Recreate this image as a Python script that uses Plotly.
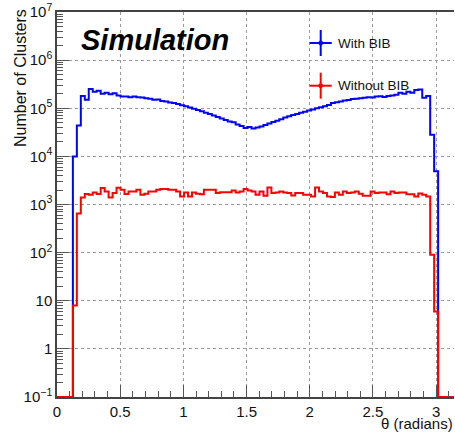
import numpy as np
import plotly.graph_objects as go

# ---------------- data ----------------
n_bins = 100
theta_min, theta_max = 0.0, np.pi

with_bib = [
    0, 0, 0, 0, 1.0e4, 4.4e4, 1.8e5, 1.5e5, 2.5e5, 2.2e5,
    2.3e5, 2.0e5, 2.1e5, 1.95e5, 2.05e5, 1.85e5, 1.75e5, 1.75e5, 1.7e5, 1.75e5,
    1.7e5, 1.68e5, 1.62e5, 1.58e5, 1.5e5, 1.52e5, 1.42e5, 1.38e5, 1.32e5, 1.28e5,
    1.22e5, 1.15e5, 1.1e5, 1.04e5, 9.8e4, 9.2e4, 8.7e4, 8.1e4, 7.6e4, 7.1e4,
    6.6e4, 6.1e4, 5.7e4, 5.3e4, 5.1e4, 4.6e4, 4.3e4, 3.9e4, 4.1e4, 3.8e4,
    4.0e4, 4.2e4, 4.5e4, 4.8e4, 5.2e4, 5.5e4, 5.9e4, 6.4e4, 6.8e4, 7.2e4,
    7.6e4, 8.1e4, 8.5e4, 9.0e4, 9.4e4, 1.0e5, 1.05e5, 1.1e5, 1.17e5, 1.28e5,
    1.33e5, 1.38e5, 1.45e5, 1.48e5, 1.55e5, 1.57e5, 1.62e5, 1.65e5, 1.7e5, 1.68e5,
    1.75e5, 1.78e5, 1.72e5, 1.8e5, 1.85e5, 1.9e5, 2.1e5, 2.0e5, 2.2e5, 2.1e5,
    2.4e5, 2.45e5, 1.65e5, 1.8e5, 2.8e4, 4.9e3, 0, 0, 0, 0,
]

without_bib = [
    0, 0, 0, 0, 8, 650, 1400, 1660, 1590, 1780,
    1660, 2190, 1860, 1400, 1730, 2240, 2020, 1660, 1860, 1860,
    2020, 1590, 1670, 1860, 1860, 2020, 2090, 2090, 2020, 2020,
    1860, 1470, 1780, 1470, 1780, 1670, 1640, 2020, 2020, 2020,
    1730, 1800, 1800, 1800, 1955, 1780, 1860, 2090, 1955, 1860,
    1590, 1860, 1520, 2260, 1730, 1780, 1860, 1780, 1730, 1540,
    1730, 1730, 1590, 1590, 1470, 2260, 1860, 1730, 1470, 1430,
    1780, 1590, 1860, 1730, 1780, 1860, 1670, 1520, 1520, 1860,
    1730, 1780, 1780, 1640, 1860, 1730, 1780, 1780, 1640, 1640,
    1470, 1700, 1600, 1470, 90, 6, 0, 0, 0, 0,
]

series_names = ["With BIB", "Without BIB"]
series_colors = ["#0000ff", "#ff0000"]

x_tick_vals = [0, 0.5, 1, 1.5, 2, 2.5, 3]
x_tick_text = ["0", "0.5", "1", "1.5", "2", "2.5", "3"]
y_tick_vals = [1e-1, 1, 10, 1e2, 1e3, 1e4, 1e5, 1e6, 1e7]
y_tick_text = ["10<sup>\u22121</sup>", "1", "10", "10<sup>2</sup>", "10<sup>3</sup>",
               "10<sup>4</sup>", "10<sup>5</sup>", "10<sup>6</sup>", "10<sup>7</sup>"]

x_title = "\u03b8 (radians)"
y_title = "Number of Clusters"
label_text = "Simulation"

# ---------------- layout constants ----------------
W, H = 455, 432
ML, MR, MT, MB = 57, 1, 12, 35
y_floor = 1e-1
FONT = "Liberation Sans, Arial, Helvetica, sans-serif"

edges = np.linspace(theta_min, theta_max, n_bins + 1)


def step_xy(vals):
    v = np.maximum(np.asarray(vals, dtype=float), y_floor)
    xs = np.concatenate([edges[:-1], [edges[-1]]])
    ys = np.concatenate([v, [v[-1]]])
    return xs, ys


fig = go.Figure()
for name, vals, col in zip(series_names, [with_bib, without_bib], series_colors):
    xs, ys = step_xy(vals)
    fig.add_trace(go.Scatter(x=xs, y=ys, mode="lines", line=dict(color=col, width=2, shape="hv"),
                             name=name, showlegend=False, hoverinfo="skip"))

pw, ph = W - ML - MR, H - MT - MB


def px_x(p):
    return (p - ML) / pw


def px_y(p):
    return (H - MB - p) / ph


shapes = []
annotations = []
# legend glyphs (ROOT-style error-bar crosses)
legend_pos = [(320.7, 43.0), (320.7, 85.7)]
for (cx, cy), col, name in zip(legend_pos, series_colors, series_names):
    shapes.append(dict(type="line", xref="paper", yref="paper",
                       x0=px_x(cx - 11), x1=px_x(cx + 11), y0=px_y(cy), y1=px_y(cy),
                       line=dict(color=col, width=2)))
    shapes.append(dict(type="line", xref="paper", yref="paper",
                       x0=px_x(cx), x1=px_x(cx), y0=px_y(cy - 13), y1=px_y(cy + 13),
                       line=dict(color=col, width=2)))
    shapes.append(dict(type="circle", xref="paper", yref="paper",
                       x0=px_x(cx - 2), x1=px_x(cx + 2), y0=px_y(cy - 2), y1=px_y(cy + 2),
                       line=dict(color=col, width=1), fillcolor=col))
    annotations.append(dict(text=name, xref="paper", yref="paper", x=px_x(336), y=px_y(cy),
                            xanchor="left", yanchor="middle", showarrow=False,
                            font=dict(family=FONT, size=13.5, color="#111")))

annotations.append(dict(text=label_text, xref="paper", yref="paper", x=px_x(79), y=px_y(40),
                        xanchor="left", yanchor="middle", showarrow=False,
                        font=dict(family=FONT, size=29, color="black", weight="bold", style="italic")))
annotations.append(dict(text=y_title, xref="paper", yref="paper", x=px_x(20), y=px_y(7),
                        xanchor="center", yanchor="top", textangle=-90, showarrow=False,
                        font=dict(family=FONT, size=16, color="#111")))
annotations.append(dict(text=x_title, xref="paper", yref="paper", x=px_x(455), y=px_y(424),
                        xanchor="right", yanchor="middle", showarrow=False,
                        font=dict(family=FONT, size=15, color="#111")))

fig.update_layout(
    width=W, height=H,
    margin=dict(l=ML, r=MR, t=MT, b=MB, pad=0),
    paper_bgcolor="white", plot_bgcolor="white",
    showlegend=False,
    shapes=shapes, annotations=annotations,
    font=dict(family=FONT, size=15, color="#111"),
)

fig.update_xaxes(
    range=[theta_min, theta_max],
    tickmode="array", tickvals=x_tick_vals, ticktext=x_tick_text,
    ticks="inside", ticklen=12, tickwidth=1, tickcolor="#555",
    showline=True, linecolor="#444", linewidth=1.5, mirror=True,
    showgrid=True, gridcolor="#9a9a9a", griddash="dot", gridwidth=1,
    zeroline=False,
    minor=dict(ticks="inside", ticklen=6, tickcolor="#555", dtick=0.1, showgrid=False),
    tickfont=dict(family=FONT, size=15, color="#111"),
)
fig.update_yaxes(
    type="log", range=[-1, 7],
    tickmode="array", tickvals=y_tick_vals, ticktext=y_tick_text,
    ticks="inside", ticklen=12, tickwidth=1, tickcolor="#555",
    showline=True, linecolor="#444", linewidth=1.5, mirror=False,
    showgrid=True, gridcolor="#9a9a9a", griddash="dot", gridwidth=1,
    zeroline=False,
    minor=dict(ticks="inside", ticklen=6, tickcolor="#555", dtick="D1", showgrid=False),
    tickfont=dict(family=FONT, size=15, color="#111"),
)

fig.write_html("out.html")
